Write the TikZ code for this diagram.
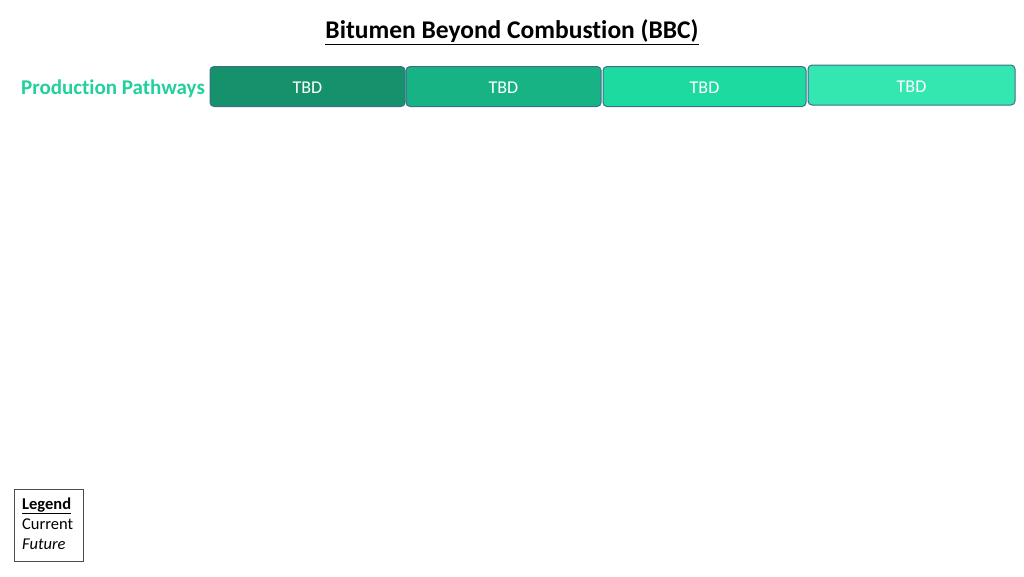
\documentclass[tikz,border=0pt]{standalone}
\usepackage{fontspec}
\setmainfont{Carlito}[Ligatures=NoCommon]
\definecolor{c1}{HTML}{15926B}
\definecolor{c2}{HTML}{17B384}
\definecolor{c3}{HTML}{1DDAA0}
\definecolor{c4}{HTML}{34E6B0}
\definecolor{bordc}{HTML}{3D6E8A}
\definecolor{pathc}{HTML}{22D09E}
\newcommand{\lowtxt}[1]{\raisebox{-1.5pt}[\height][\depth]{#1}}
\tikzset{
  tbdbox/.style={draw=bordc, line width=1pt, rounded corners=4pt, minimum height=40pt, text=white, font=\fontsize{18}{20}\selectfont, inner sep=0pt},
}
\begin{document}
\begin{tikzpicture}[x=1pt,y=-1pt]
\useasboundingbox (0,0) rectangle (1024,576);
\node[font=\fontsize{25.5}{28}\selectfont\bfseries] (title) at (512,32) {\underline{Bitumen Beyond Combustion (BBC)}};
\node[font=\fontsize{21}{24}\selectfont\bfseries, text=pathc, anchor=east, inner sep=0pt] (pp) at (205,88.5) {Production Pathways};
\node[tbdbox, fill=c1, minimum width=195pt] (b1) at (307.5,86.5) {\lowtxt{TBD}};
\node[tbdbox, fill=c2, minimum width=195pt] (b2) at (503.5,86.5) {\lowtxt{TBD}};
\node[tbdbox, fill=c3, minimum width=203pt] (b3) at (704.5,86.5) {\lowtxt{TBD}};
\node[tbdbox, fill=c4, minimum width=207pt] (b4) at (911.5,85) {\lowtxt{TBD}};
\node[draw=black!70, line width=0.6pt, minimum width=69pt, minimum height=72pt, inner sep=0pt] (leg) at (48.5,525) {};
\node[anchor=north west, align=left, inner sep=0pt, font=\fontsize{16.5}{20}\selectfont] (legt) at (22,497.5) {\textbf{\underline{Legend}}\\Current\\\textit{Future}};
\end{tikzpicture}
\end{document}
